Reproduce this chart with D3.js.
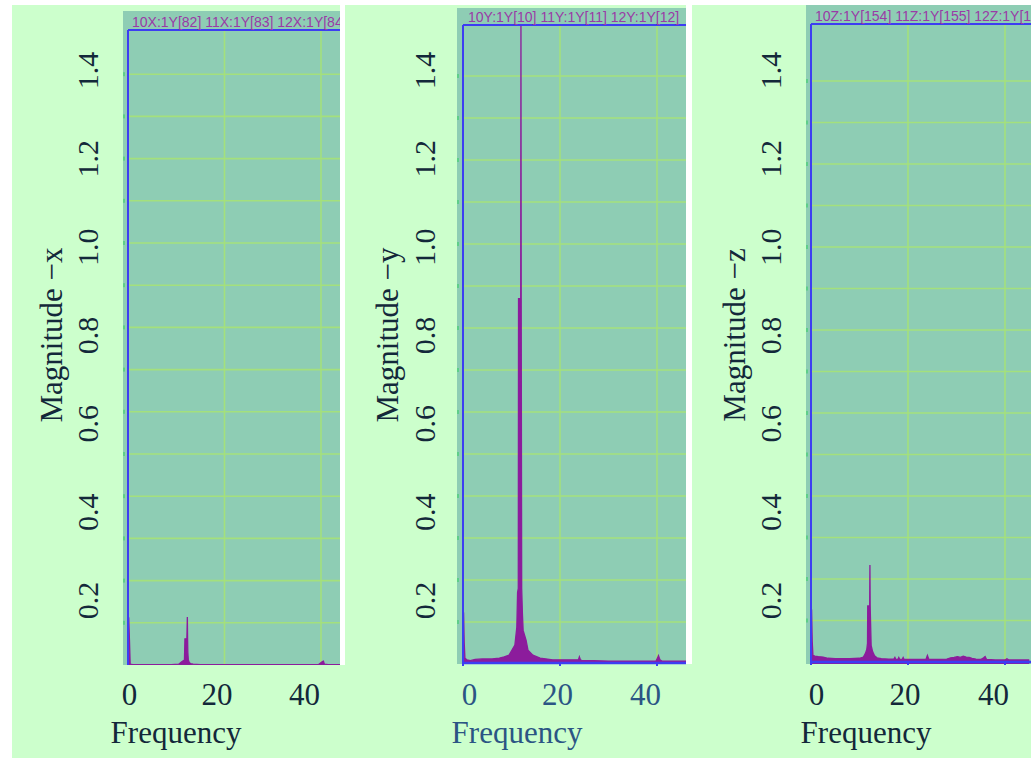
<!DOCTYPE html>
<html><head><meta charset="utf-8">
<script src="https://cdn.jsdelivr.net/npm/d3@7"></script>
<style>html,body{margin:0;padding:0;background:#fff;} svg{display:block}</style>
</head><body><svg id="c" width="1031" height="768"></svg>
<script>
// ---------------- data ----------------
const xTicks = [0, 20, 40];
const yTicks = [0.2, 0.4, 0.6, 0.8, 1.0, 1.2, 1.4];
const gridFreq = [20, 40];
const gridMag = [0.1, 0.2, 0.3, 0.4, 0.5, 0.6, 0.7, 0.8, 0.9, 1.0, 1.1, 1.2, 1.3, 1.4];
const axisNames = ["x", "y", "z"];
const xTitle = "Frequency";
const legendX = "10X:1Y[82] 11X:1Y[83] 12X:1Y[84]";
const legendY = "10Y:1Y[10] 11Y:1Y[11] 12Y:1Y[12]";
const legendZ = "10Z:1Y[154] 11Z:1Y[155] 12Z:1Y[156]";

const freqX = [0, 0.15, 0.3, 0.45, 1, 3, 6, 9, 10.5, 11.2, 11.7, 11.8, 12.2, 12.3, 12.35, 12.4, 12.5, 12.7, 13.0, 13.5, 15, 20, 25, 30, 35, 39.5, 40.3, 40.5, 40.7, 41.5, 45];
const magX  = [0.114, 0.112, 0.06, 0.002, 0.001, 0.001, 0.001, 0.001, 0.002, 0.008, 0.012, 0.062, 0.062, 0.114, 0.062, 0.03, 0.012, 0.006, 0.003, 0.002, 0.001, 0.001, 0.001, 0.001, 0.001, 0.001, 0.008, 0.009, 0.002, 0.001, 0.001];

const freqY = [0, 0.12, 0.25, 0.4, 0.8, 1.5, 2.5, 4, 6, 7.5, 8.5, 9.5, 10.1, 10.7, 11.1, 11.25, 11.4, 11.45, 11.9, 11.95, 12.0, 12.1, 12.25, 12.4, 13.0, 13.4, 14.4, 15.9, 18.5, 20, 22, 23.8, 24.0, 24.2, 24.5, 27, 30, 35, 39.8, 40.1, 40.3, 40.6, 41, 46];
const magY  = [0.124, 0.122, 0.05, 0.014, 0.01, 0.008, 0.011, 0.012, 0.012, 0.014, 0.017, 0.021, 0.033, 0.045, 0.088, 0.17, 0.18, 0.87, 0.87, 1.53, 0.87, 0.18, 0.12, 0.08, 0.057, 0.033, 0.021, 0.014, 0.01, 0.01, 0.01, 0.01, 0.017, 0.01, 0.008, 0.008, 0.007, 0.007, 0.007, 0.014, 0.02, 0.01, 0.007, 0.007];

const freqZ = [0, 0.12, 0.25, 0.4, 0.8, 1.5, 2.5, 3.5, 5, 8, 10, 10.8, 11.2, 11.5, 11.65, 11.7, 12.1, 12.15, 12.2, 12.4, 12.7, 13.1, 13.6, 14.5, 16, 17.1, 17.3, 17.5, 17.9, 18.1, 18.3, 18.8, 19.0, 19.2, 22, 23.7, 24.0, 24.3, 26, 28, 28.8, 29.5, 30.2, 30.8, 31.4, 32, 32.6, 33.2, 34, 35, 35.6, 35.9, 36.2, 38, 40, 40.4, 40.8, 45];
const magZ  = [0.128, 0.126, 0.05, 0.016, 0.014, 0.013, 0.012, 0.009, 0.008, 0.008, 0.009, 0.012, 0.02, 0.03, 0.045, 0.135, 0.135, 0.234, 0.135, 0.04, 0.025, 0.015, 0.01, 0.008, 0.007, 0.007, 0.011, 0.006, 0.006, 0.011, 0.006, 0.006, 0.011, 0.006, 0.006, 0.006, 0.016, 0.006, 0.006, 0.007, 0.01, 0.011, 0.013, 0.011, 0.014, 0.012, 0.011, 0.009, 0.007, 0.006, 0.01, 0.013, 0.006, 0.005, 0.005, 0.008, 0.005, 0.005];

const series = [
  {freq: freqX, mag: magX, legend: legendX},
  {freq: freqY, mag: magY, legend: legendY},
  {freq: freqZ, mag: magZ, legend: legendZ}
];

// ---------------- layout ----------------
const layout = [
  {tealL:123, tealT:11, tealR:340, stripR:345, bottom:665, frameL:128, frameT:30, blueBottom:false,
   xPx:[128,224.5], yPx:[665,622.8], labX:[129,304], labYX:98, titleX:62, freqX:176, legX:132, legY:27, xCol:"#13283a"},
  {tealL:457, tealT:8, tealR:686, stripR:692, bottom:664, frameL:463, frameT:25, blueBottom:true, blueY:663,
   xPx:[463,560], yPx:[664,622], labX:[469,645], labYX:435, titleX:398, freqX:517, legX:468, legY:22, xCol:"#2b5584"},
  {tealL:806, tealT:5, tealR:1031, stripR:1031, bottom:664, frameL:811, frameT:24, blueBottom:true, blueY:662,
   xPx:[811,908], yPx:[662,620.5], labX:[816,993], labYX:781, titleX:745, freqX:866, legX:815, legY:21, xCol:"#13283a"}
];

const svg = d3.select("#c");
const serif = "'Liberation Serif','Times New Roman',serif";
const textCol = "#13283a";

svg.append("rect").attr("x",12).attr("y",5).attr("width",1019).attr("height",753).attr("fill","#ccffcc");

layout.forEach((L, i) => {
  const S = series[i];
  const g = svg.append("g");
  g.append("rect").attr("x", L.tealR).attr("y", L.tealT - 6).attr("width", L.stripR - L.tealR)
    .attr("height", L.bottom - L.tealT + 6).attr("fill", "#ffffff");
  g.append("rect").attr("x", L.tealL).attr("y", L.tealT).attr("width", L.tealR - L.tealL)
    .attr("height", L.bottom - L.tealT).attr("fill", "#8ecdb4");

  const clipId = "clip" + i;
  svg.append("clipPath").attr("id", clipId).append("rect")
    .attr("x", L.tealL).attr("y", L.tealT).attr("width", L.tealR - L.tealL).attr("height", L.bottom - L.tealT);
  const plotClipId = "pclip" + i;
  svg.append("clipPath").attr("id", plotClipId).append("rect")
    .attr("x", L.frameL).attr("y", L.frameT).attr("width", L.tealR - L.frameL).attr("height", L.bottom - L.frameT);

  const x = d3.scaleLinear().domain([0, 20]).range(L.xPx);
  const y = d3.scaleLinear().domain([0, 0.1]).range(L.yPx);

  const inner = g.append("g").attr("clip-path", `url(#${plotClipId})`);
  inner.selectAll("line.gx").data(gridFreq).join("line")
    .attr("x1", d => x(d)).attr("x2", d => x(d)).attr("y1", L.frameT).attr("y2", L.bottom)
    .attr("stroke", "#a4e07c").attr("stroke-width", 1.6);
  inner.selectAll("line.gy").data(gridMag).join("line")
    .attr("x1", L.frameL).attr("x2", L.tealR).attr("y1", d => y(d)).attr("y2", d => y(d))
    .attr("stroke", "#a4e07c").attr("stroke-width", 1.6);

  g.selectAll("line.tk").data(gridMag).join("line")
    .attr("x1", L.tealL + 1).attr("x2", L.tealL + 1).attr("y1", d => y(d) - 2).attr("y2", d => y(d) + 2)
    .attr("stroke", "#2fcf5f").attr("stroke-width", 1);

  const pts = S.freq.map((f, k) => [f, S.mag[k]]);
  const area = d3.area().x(d => x(d[0])).y0(L.bottom).y1(d => y(d[1]));
  const line = d3.line().x(d => x(d[0])).y(d => y(d[1]));
  inner.append("path").attr("d", area(pts)).attr("fill", "#8c1c9c");
  inner.append("path").attr("d", line(pts)).attr("fill", "none").attr("stroke", "#8c1c9c").attr("stroke-width", 1.3);

  g.append("line").attr("x1", L.frameL).attr("x2", L.frameL).attr("y1", L.frameT).attr("y2", L.bottom)
    .attr("stroke", "#3d3df2").attr("stroke-width", 2);
  g.append("line").attr("x1", L.frameL).attr("x2", L.tealR).attr("y1", L.frameT).attr("y2", L.frameT)
    .attr("stroke", "#3d3df2").attr("stroke-width", 2);
  if (L.blueBottom) {
    g.append("line").attr("x1", L.frameL).attr("x2", L.tealR).attr("y1", L.blueY).attr("y2", L.blueY)
      .attr("stroke", "#3d3df2").attr("stroke-width", 2.5);
    g.selectAll("line.bt").data([0].concat(gridFreq)).join("line")
      .attr("x1", d => x(d)).attr("x2", d => x(d)).attr("y1", L.blueY).attr("y2", L.blueY + 3)
      .attr("stroke", "#3d3df2").attr("stroke-width", 2);
  }

  g.append("g").attr("clip-path", `url(#${clipId})`).append("text")
    .attr("x", L.legX).attr("y", L.legY).text(S.legend)
    .attr("font-family", "'Liberation Sans',Arial,sans-serif").attr("font-size", 14)
    .attr("fill", "#9a3aa6");

  const xl = d3.scaleLinear().domain([0, 40]).range(L.labX);
  const ax = svg.append("g").attr("transform", "translate(0,705)")
    .call(d3.axisBottom(xl).tickValues(xTicks).tickSize(0).tickFormat(d3.format("d")));
  ax.select(".domain").remove();
  ax.selectAll("text").attr("y", 0).attr("dy", null)
    .attr("font-family", serif).attr("font-size", 31).attr("fill", L.xCol);

  const yl = d3.scaleLinear().domain([0.2, 1.4]).range([600, 70]);
  const ay = svg.append("g").attr("transform", `translate(${L.labYX},0)`)
    .call(d3.axisLeft(yl).tickValues(yTicks).tickSize(0).tickFormat(d3.format(".1f")));
  ay.select(".domain").remove();
  ay.selectAll("text").attr("x", 0).attr("dy", null).attr("text-anchor", "middle")
    .attr("transform", "rotate(-90)")
    .attr("font-family", serif).attr("font-size", 30).attr("fill", textCol);

  svg.append("text").attr("transform", `translate(${L.titleX},335) rotate(-90)`)
    .attr("text-anchor", "middle").attr("font-family", serif).attr("font-size", 31)
    .attr("fill", textCol).text("Magnitude \u2212" + axisNames[i]);
  svg.append("text").attr("x", L.freqX).attr("y", 743).attr("text-anchor", "middle")
    .attr("font-family", serif).attr("font-size", 31).attr("fill", L.xCol).text(xTitle);
});
</script></body></html>
